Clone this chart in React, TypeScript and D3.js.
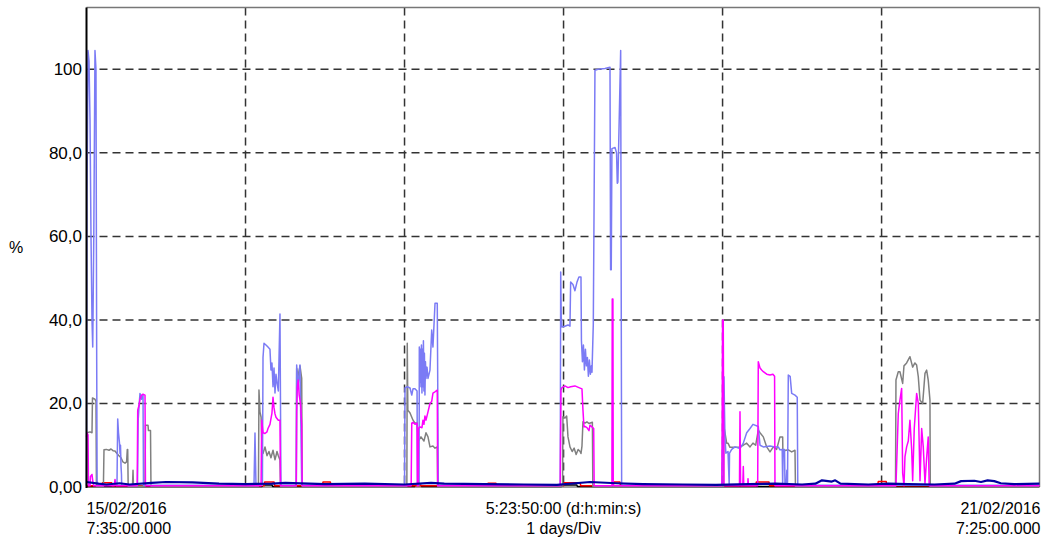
import React from "react";
import * as d3 from "d3";

// time in hours since 15/02/2016 7:35:00, value in %
const TOTAL_HOURS = 143.8333;
const yTicks = [0, 20, 40, 60, 80, 100];
const yTickLabels = ["0,00", "20,0", "40,0", "60,0", "80,0", "100"];
const dayGridHours = [24, 48, 72, 96, 120];
const bottomLeft = ["15/02/2016", "7:35:00.000"];
const bottomCenter = ["5:23:50:00 (d:h:min:s)", "1 days/Div"];
const bottomRight = ["21/02/2016", "7:25:00.000"];
const yLabel = "%";

const blackSeries: [number, number][] = [
  [0, 0.1], [26.5, 0.1], [26.6, 0.5], [28, 0.5], [28.1, 0.1], [49.5, 0.1], [49.6, 0.4], [50.5, 0.4], [50.6, 0.1],
  [71.7, 0.1], [71.8, 0.5], [74, 0.5], [74.1, 0.1], [143.83, 0.1],
];

const redSeries: [number, number][] = [
  [0, 0.3], [2.3, 0.3], [2.4, 1.0], [3.8, 1.0], [3.9, 0.3], [26.8, 0.3], [26.9, 1.2], [28.3, 1.2], [28.4, 0.3],
  [35.6, 0.3], [35.7, 1.2], [36.8, 1.2], [36.9, 0.3], [60.5, 0.3], [60.6, 0.9], [61.8, 0.9], [61.9, 0.3],
  [72, 0.3], [72.1, 1.0], [74.5, 1.0], [74.6, 0.3], [79.5, 0.3], [79.6, 1.2], [80.5, 1.2], [80.6, 0.3],
  [101, 0.3], [101.1, 1.2], [103, 1.2], [103.1, 0.3], [119.4, 0.3], [119.5, 1.3], [120.7, 1.3], [120.8, 0.3],
  [143.83, 0.3],
];

const graySeries: [number, number][] = [
  [0, 0.2], [0.05, 13], [0.53, 13.2], [0.83, 13], [0.9, 21.3], [1.28, 21], [1.43, 20.5], [1.5, 0.2],
  [2.55, 0.2], [2.64, 8.9], [3.0, 9], [3.4, 8.8], [3.7, 9.1], [4.0, 8.7], [4.3, 8.6], [4.6, 8], [4.9, 7.5],
  [5.21, 7], [5.5, 6], [5.81, 5.7], [6.05, 6], [6.16, 9], [6.22, 9], [6.29, 0.2],
  [6.94, 0.2], [7.02, 4], [7.09, 0.2],
  [8.83, 0.2], [8.9, 14.8], [9.28, 14.8], [9.35, 13.5], [9.66, 13.5], [9.73, 0.2],
  [25.95, 0.2], [26.03, 23.2], [26.18, 18], [26.35, 16.7], [26.5, 9], [26.64, 8], [26.94, 9.6], [27.24, 7.5],
  [27.54, 8.5], [27.84, 7], [28.15, 8.8], [28.45, 6.5], [28.75, 8.5], [28.95, 7.5], [29.2, 6.5], [29.28, 0.2],
  [31.66, 0.2], [31.72, 28.4], [31.92, 26.5], [32.22, 29], [32.48, 26], [32.55, 0.2],
  [48.35, 0.2], [48.41, 34.4], [48.5, 18.4], [48.83, 17.7], [49.28, 16], [49.58, 15.3], [49.89, 15.3],
  [50.08, 11], [50.48, 12], [50.93, 11], [51.24, 13], [51.54, 12], [51.84, 9.6], [52.29, 9.8], [52.6, 9.3],
  [52.94, 9.6], [53.0, 0.2],
  [71.85, 0.2], [71.91, 16.8], [72.22, 16.5], [72.47, 17], [72.67, 12], [72.97, 9.6], [73.3, 8.5], [73.6, 9.3],
  [73.9, 7.8], [74.2, 9], [74.5, 8.5], [74.63, 8], [74.78, 9.8], [74.93, 15.6], [75.23, 15.3], [75.53, 15.6],
  [75.84, 15.2], [76.35, 15.5], [76.42, 0.2],
  [96.15, 0.2], [96.21, 14.4], [96.36, 13], [96.62, 10.5], [96.82, 10.5], [97.12, 9.5], [97.88, 9.5],
  [98.63, 9.6], [99.13, 10], [99.64, 10.5], [100.14, 9.6], [100.59, 10.5], [101.0, 10], [101.39, 13.6],
  [101.65, 13], [102.15, 12], [102.66, 9.6], [103.16, 8.4], [103.66, 9.6], [104.16, 9], [104.66, 12],
  [105.07, 12], [105.1, 8.6], [105.92, 8.9], [106.43, 8.4], [106.93, 8.8], [107.0, 0.2],
  [122.1, 0.2], [122.17, 25.6], [122.52, 27.6], [122.77, 27.6], [123.18, 24.8], [123.38, 29], [123.78, 29.7],
  [124.28, 31.2], [124.69, 28.7], [125.03, 29.7], [125.29, 29.2], [125.54, 26.4], [125.8, 20.8], [126.2, 20],
  [126.55, 27.2], [126.8, 28], [127.04, 25.6], [127.3, 20.8], [127.35, 0.2],
  [143.83, 0.2],
];

const lightBlueSeries: [number, number][] = [
  [0, 0.4], [0.08, 70], [0.23, 104.5], [0.38, 102], [0.53, 88], [0.68, 60], [0.83, 40], [0.94, 33.5],
  [1.1, 60], [1.28, 104.5], [1.43, 100], [1.54, 30], [1.6, 1.5], [1.74, 0.4],
  [4.6, 0.4], [4.71, 16.3], [4.83, 13], [4.98, 10.5], [5.06, 8], [5.13, 10], [5.21, 5], [5.28, 3], [5.31, 0.4],
  [7.7, 0.4], [7.8, 16], [7.92, 19], [8.07, 22.4], [8.3, 21], [8.53, 22], [8.6, 0.4],
  [25.28, 0.4], [25.43, 12.9], [25.58, 0.4],
  [26.55, 0.4], [26.64, 31], [26.79, 34.4], [27.09, 34], [27.39, 33.5], [27.69, 33], [27.84, 28], [27.99, 29.7],
  [28.15, 24], [28.3, 28.5], [28.45, 22.5], [28.6, 27], [28.75, 25], [28.95, 23], [29.2, 41.4], [29.35, 0.4],
  [31.66, 0.4], [31.72, 29.2], [31.92, 24], [32.22, 29.2], [32.48, 0.4],
  [48.0, 0.4], [48.07, 23.7], [48.41, 24], [48.83, 23.7], [49.09, 22], [49.28, 23.5], [49.58, 23.5],
  [49.89, 23], [49.95, 0.4], [50.2, 0.4], [50.23, 33.5], [50.33, 25], [50.4, 33], [50.48, 24], [50.55, 34],
  [50.63, 22.5], [50.7, 33], [50.78, 24], [50.85, 35], [50.93, 23], [51.0, 32], [51.08, 22], [51.16, 30],
  [51.24, 26], [51.39, 28.7], [51.54, 26], [51.84, 28], [52.1, 37.6], [52.29, 33.5], [52.6, 44], [52.94, 44],
  [53.1, 0.4],
  [71.5, 0.4], [71.57, 51.5], [71.65, 40.7], [71.76, 38.3], [72.2, 38.5], [72.67, 38.8], [72.97, 38.5],
  [73.07, 49.1], [73.42, 48.5], [73.72, 47], [74.02, 49], [74.32, 50.3], [74.63, 50.3], [74.7, 35], [74.85, 30],
  [75.0, 34], [75.15, 28], [75.3, 33], [75.45, 29], [75.6, 31], [75.75, 26.5], [75.9, 30.4], [76.05, 27],
  [76.2, 29], [76.29, 27.5], [76.49, 39], [76.74, 99.8], [77.2, 100], [78.25, 100.2], [79.01, 100.5],
  [79.1, 52], [79.2, 52], [79.3, 81], [79.77, 81.3], [80.0, 80], [80.11, 72.7], [80.2, 73], [80.62, 104.5],
  [80.77, 0.4],
  [95.9, 0.4], [96.01, 10], [96.21, 26.4], [96.36, 12], [96.5, 8.1], [96.82, 8.5], [97.0, 0.5], [97.05, 8.1],
  [97.38, 9], [97.88, 9.6], [98.63, 9.2], [99.13, 10.5], [99.64, 13], [100.14, 14], [100.59, 15], [101.39, 14.5],
  [101.65, 10], [102.15, 9.6], [103.16, 9.8], [103.91, 9.6], [104.41, 9.6], [104.66, 8.9], [105.0, 9],
  [105.07, 0.5], [105.15, 9], [105.35, 9], [105.42, 0.5], [105.6, 0.5], [105.7, 4], [105.8, 0.5],
  [105.92, 26.8], [106.2, 26.5], [106.43, 22.4], [106.93, 22], [107.27, 21.5], [107.35, 0.4],
  [143.83, 0.4],
];

const magentaSeries: [number, number][] = [
  [0, 12], [0.08, 13], [0.23, 12.5], [0.3, 0.3], [0.53, 0.3], [0.6, 2.5], [0.83, 3], [0.98, 1], [1.1, 0.3],
  [4.2, 0.3], [4.3, 1.8], [4.45, 0.3],
  [7.65, 0.3], [7.73, 18.4], [7.92, 19.5], [8.07, 21], [8.3, 22], [8.53, 22.2], [8.83, 22], [8.9, 0.3],
  [26.35, 0.3], [26.44, 16], [26.64, 13], [26.94, 12.8], [27.24, 13.2], [27.39, 14], [27.69, 15], [27.99, 17.7],
  [28.15, 21.5], [28.3, 19], [28.45, 17.5], [28.6, 16.7], [28.95, 16], [29.2, 16], [29.28, 0.3],
  [31.66, 0.3], [31.72, 18], [31.82, 24], [31.95, 25.6], [32.1, 22], [32.3, 20], [32.48, 15], [32.55, 0.3],
  [49.0, 0.3], [49.09, 15.3], [49.28, 15.5], [49.58, 15], [49.89, 15.3], [49.95, 0.3], [50.05, 0.3],
  [50.08, 14], [50.33, 14.4], [50.63, 14.2], [50.78, 16], [50.93, 15], [51.08, 17], [51.24, 16], [51.54, 18],
  [51.84, 20], [52.1, 20.5], [52.29, 22.5], [52.6, 22.8], [52.94, 23.2], [53.0, 0.3],
  [71.5, 0.3], [71.61, 23.2], [71.76, 23.8], [72.2, 24.2], [72.67, 23.8], [73.07, 24], [73.72, 24.2],
  [74.32, 23.8], [74.78, 23.5], [74.93, 18.4], [75.08, 14.4], [75.23, 14.5], [75.53, 14.2], [75.84, 13.5],
  [75.99, 14.8], [76.29, 14.4], [76.55, 14], [76.62, 0.3],
  [79.3, 0.3], [79.35, 45], [79.45, 45], [79.5, 0.3],
  [95.9, 0.3], [96.0, 40], [96.1, 40], [96.21, 0.3],
  [98.55, 0.3], [98.63, 18], [98.72, 0.3], [99.05, 0.3], [99.13, 4.9], [99.2, 0.3],
  [99.8, 0.3], [99.84, 2], [99.9, 0.3],
  [101.3, 0.3], [101.39, 30], [101.65, 28.5], [101.9, 28], [102.15, 27.6], [102.66, 27], [103.16, 26.8],
  [103.6, 27], [103.85, 26.5], [103.91, 0.3],
  [122.17, 0.3], [122.52, 17.6], [122.77, 20.8], [123.03, 23.6], [123.18, 3.3], [123.38, 0.3], [123.53, 7.3],
  [123.78, 9.6], [124.03, 11], [124.28, 16], [124.54, 9], [124.69, 1.5], [124.93, 14], [125.29, 22.4],
  [125.54, 20], [125.8, 1.5], [126.05, 14], [126.29, 9.6], [126.55, 0.9], [126.8, 7], [127.04, 12],
  [127.19, 0.3],
  [143.83, 0.3],
];

const navySeries: [number, number][] = [
  [0, 1.2], [1.8, 0.8], [3.0, 0.6], [5, 0.9], [6.5, 0.6], [9.8, 1.0], [12, 1.2], [16, 1.1], [20, 0.8],
  [24, 0.7], [28, 0.8], [30, 1.0], [36, 0.7], [42, 0.8], [48, 0.6], [52, 1.0], [54, 0.8], [60, 0.7],
  [66, 0.6], [71, 0.5], [76, 1.2], [80, 0.9], [84, 0.7], [90, 0.6], [95, 0.5], [100, 0.7], [104, 0.8],
  [108, 0.6], [110, 0.8], [111, 1.6], [112.5, 1.3], [113, 1.6], [113.8, 0.8], [118, 0.6], [121, 0.8],
  [124, 0.7], [128, 0.6], [131, 0.8], [132, 1.4], [134, 1.5], [135, 1.2], [136, 1.6], [137, 1.4],
  [138, 0.9], [140, 0.7], [143.83, 0.8],
];

const seriesList = [
  { name: "black", data: blackSeries, color: "#000000", width: 1.5 },
  { name: "red", data: redSeries, color: "#ff0000", width: 1.5 },
  { name: "gray", data: graySeries, color: "#808080", width: 1.5 },
  { name: "lightblue", data: lightBlueSeries, color: "#7b7bf5", width: 1.5 },
  { name: "magenta", data: magentaSeries, color: "#ff00ff", width: 1.5 },
  { name: "navy", data: navySeries, color: "#0000a0", width: 2.2 },
];

const W = 1047;
const H = 538;
const M = { left: 86.5, right: 1039.5, top: 7.5, bottom: 487 };
const FONT = "'Liberation Sans', Arial, sans-serif";

export default function App() {
  const x = d3.scaleLinear().domain([0, TOTAL_HOURS]).range([M.left, M.right]);
  const y = d3.scaleLinear().domain([0, 114.8]).range([M.bottom, M.top]);
  const line = d3
    .line<[number, number]>()
    .x((d) => x(d[0]))
    .y((d) => y(d[1]));

  return (
    <svg
      width={W}
      height={H}
      style={{ position: "absolute", left: 0, top: 0, background: "#fff" }}
      fontFamily={FONT}
    >
      <rect x={0} y={0} width={W} height={H} fill="#fff" />
      {/* grid */}
      {yTicks.slice(1).map((t) => (
        <line
          key={"h" + t}
          x1={M.left}
          x2={M.right}
          y1={y(t)}
          y2={y(t)}
          stroke="#333"
          strokeWidth={1.5}
          strokeDasharray="8,5"
        />
      ))}
      {dayGridHours.map((h) => (
        <line
          key={"v" + h}
          x1={x(h)}
          x2={x(h)}
          y1={M.top}
          y2={M.bottom}
          stroke="#333"
          strokeWidth={1.5}
          strokeDasharray="8,5"
        />
      ))}
      {/* frame */}
      <line x1={M.left} x2={M.right} y1={M.top} y2={M.top} stroke="#777" strokeWidth={1.5} />
      <line x1={M.right} x2={M.right} y1={M.top} y2={M.bottom} stroke="#777" strokeWidth={1.5} />
      <line x1={M.left} x2={M.right} y1={M.bottom} y2={M.bottom} stroke="#444" strokeWidth={1} />
      {/* series */}
      <g fill="none" strokeLinejoin="round">
        {seriesList.map((s) => (
          <path key={s.name} d={line(s.data) || ""} stroke={s.color} strokeWidth={s.width} />
        ))}
      </g>
      <line x1={M.left} x2={M.left} y1={M.top} y2={M.bottom + 1} stroke="#000" strokeWidth={2} />
      {/* y tick labels */}
      {yTicks.map((t, i) => (
        <text key={"yl" + t} x={82} y={y(t)} dy="0.35em" textAnchor="end" fontSize={17} fill="#000">
          {yTickLabels[i]}
        </text>
      ))}
      <text x={16} y={247} dy="0.35em" textAnchor="middle" fontSize={16} fill="#000">
        {yLabel}
      </text>
      {/* bottom labels */}
      {bottomLeft.map((s, i) => (
        <text key={"bl" + i} x={M.left} y={514 + i * 20} fontSize={16} fill="#000">
          {s}
        </text>
      ))}
      {bottomCenter.map((s, i) => (
        <text key={"bc" + i} x={x(72)} y={514 + i * 20} fontSize={16} textAnchor="middle" fill="#000">
          {s}
        </text>
      ))}
      {bottomRight.map((s, i) => (
        <text key={"br" + i} x={M.right + 1} y={514 + i * 20} fontSize={16} textAnchor="end" fill="#000">
          {s}
        </text>
      ))}
    </svg>
  );
}
